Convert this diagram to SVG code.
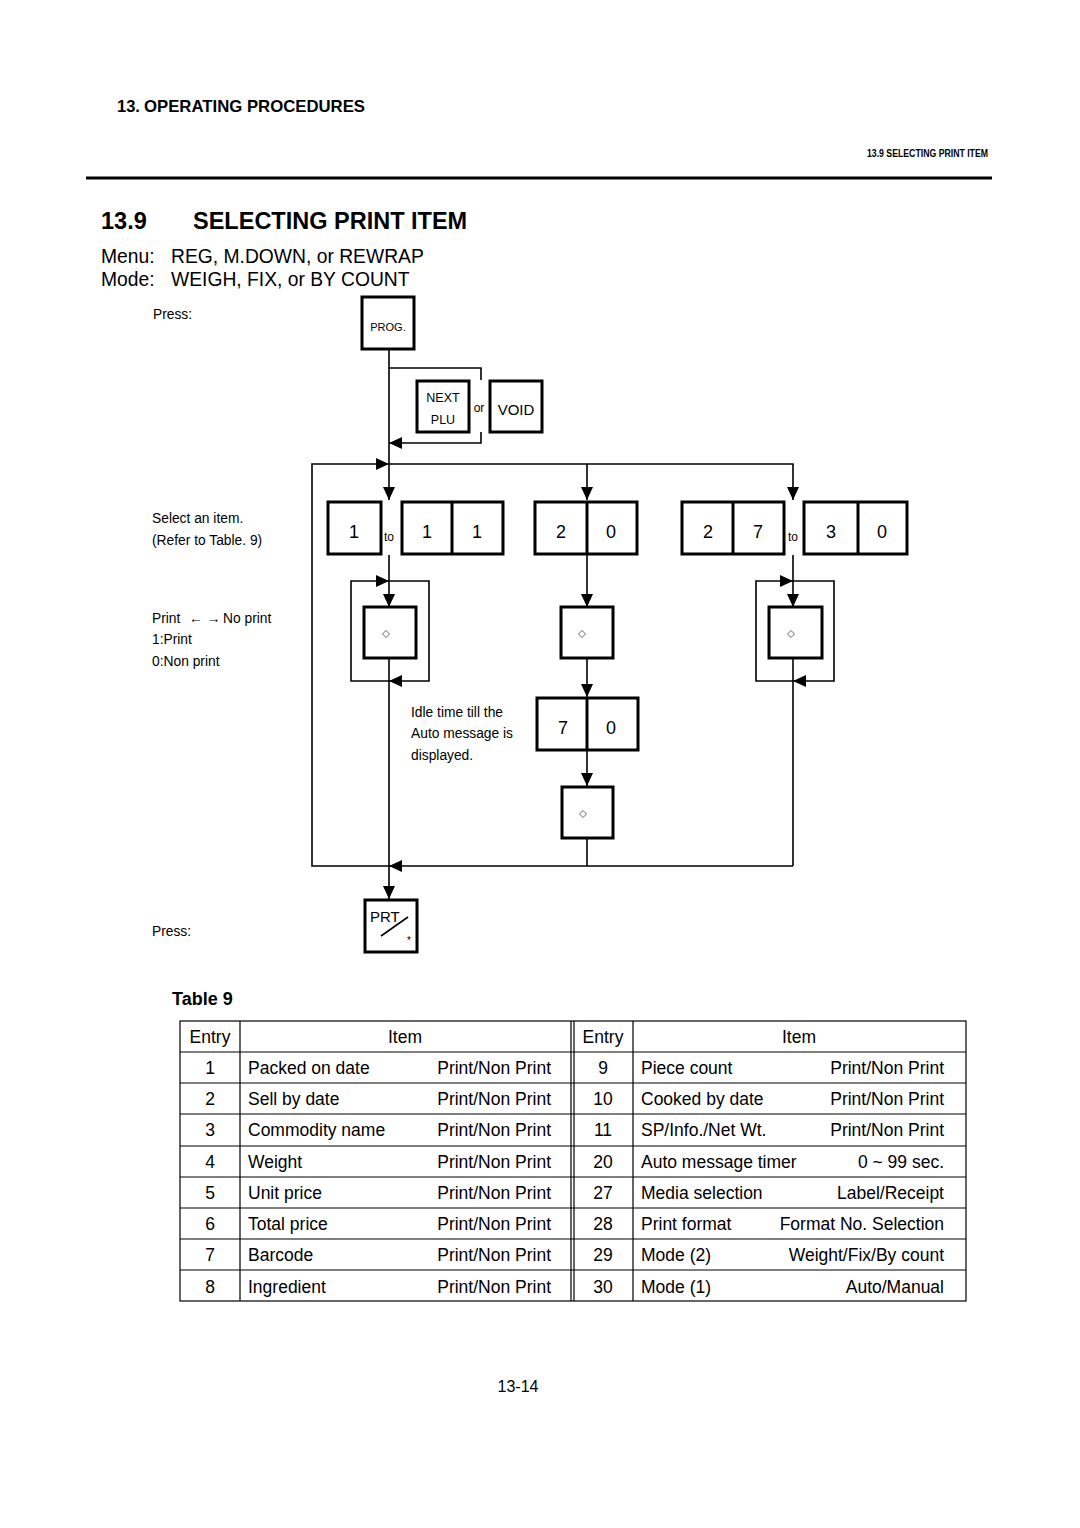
<svg xmlns="http://www.w3.org/2000/svg" width="1080" height="1528" viewBox="0 0 1080 1528">
<style>
text{font-family:"Liberation Sans",Arial,sans-serif;fill:#000}
.key{fill:#fff;stroke:#000;stroke-width:3}
.div{stroke:#000;stroke-width:3}
.con{fill:none;stroke:#000;stroke-width:1.6}
.num{font-size:18px;text-anchor:middle}
.note{font-size:13.8px}
.dia{fill:none;stroke:#555;stroke-width:0.9}
.tl{stroke:#000;stroke-width:1.2;fill:none}
.tt{font-size:17.5px}
.c{text-anchor:middle}
.r{text-anchor:end}
</style>
<defs>
<marker id="ah" markerUnits="userSpaceOnUse" markerWidth="14" markerHeight="12" refX="13" refY="6" orient="auto">
<path d="M0,0 L13,6 L0,12 z" fill="#000"/>
</marker>
<polygon id="dm" points="0,-3.5 3.5,0 0,3.5 -3.5,0" class="dia"/>
</defs>
<rect width="1080" height="1528" fill="#fff"/>

<g id="header">
<text x="117" y="112" font-size="16.5" font-weight="bold">13.</text>
<text x="144" y="112" font-size="16.5" font-weight="bold" textLength="221" lengthAdjust="spacingAndGlyphs">OPERATING PROCEDURES</text>
<text x="867" y="157" font-size="11" font-weight="bold" textLength="121" lengthAdjust="spacingAndGlyphs">13.9 SELECTING PRINT ITEM</text>
<rect x="86" y="176.5" width="906" height="3" fill="#000"/>
<text x="101" y="229" font-size="23.5" font-weight="bold">13.9</text>
<text x="193" y="229" font-size="23.5" font-weight="bold">SELECTING PRINT ITEM</text>
<text x="101" y="263" font-size="19.3">Menu:</text>
<text x="171" y="263" font-size="19.3">REG, M.DOWN, or REWRAP</text>
<text x="101" y="286" font-size="19.3">Mode:</text>
<text x="171" y="286" font-size="19.3">WEIGH, FIX, or BY COUNT</text>
</g>

<g id="notes">
<text class="note" x="153" y="319">Press:</text>
<text class="note" x="152" y="523">Select an item.</text>
<text class="note" x="152" y="545">(Refer to Table. 9)</text>
<text class="note" x="152" y="623">Print</text>
<text class="note" x="189" y="623" font-size="11">← →</text>
<text class="note" x="223" y="623">No print</text>
<text class="note" x="152" y="644">1:Print</text>
<text class="note" x="152" y="666">0:Non print</text>
<text class="note" x="411" y="717">Idle time till the</text>
<text class="note" x="411" y="738">Auto message is</text>
<text class="note" x="411" y="760">displayed.</text>
<text class="note" x="152" y="936">Press:</text>
<text x="389" y="541" font-size="12" class="c">to</text>
<text x="793" y="541" font-size="12" class="c">to</text>
<text x="479" y="412" font-size="12" class="c">or</text>
</g>

<g id="connectors">
<path class="con" d="M389,349 V500" marker-end="url(#ah)"/>
<path class="con" d="M389,368 H481 V380"/>
<path class="con" d="M481,432 V443 H389" marker-end="url(#ah)"/>
<path class="con" d="M389,866 H312 V464 H389" marker-end="url(#ah)"/>
<path class="con" d="M793,866 H389" marker-end="url(#ah)"/>
<path class="con" d="M389,464 H793 V500" marker-end="url(#ah)"/>
<path class="con" d="M587,464 V500" marker-end="url(#ah)"/>
<path class="con" d="M389,555 V607" marker-end="url(#ah)"/>
<path class="con" d="M389,681 H351 V581 H389" marker-end="url(#ah)"/>
<path class="con" d="M389,581 H429 V681 H389" marker-end="url(#ah)"/>
<path class="con" d="M389,658 V899" marker-end="url(#ah)"/>
<path class="con" d="M587,555 V607" marker-end="url(#ah)"/>
<path class="con" d="M587,658 V697" marker-end="url(#ah)"/>
<path class="con" d="M587,750 V786" marker-end="url(#ah)"/>
<path class="con" d="M587,838 V866"/>
<path class="con" d="M793,555 V607" marker-end="url(#ah)"/>
<path class="con" d="M793,681 H756 V581 H793" marker-end="url(#ah)"/>
<path class="con" d="M793,581 H834 V681 H793" marker-end="url(#ah)"/>
<path class="con" d="M793,658 V866"/>
</g>

<g id="key-prog">
<rect class="key" x="362" y="297" width="52" height="52"/>
<text x="388" y="331" font-size="11" class="c">PROG.</text>
</g>
<g id="key-nextplu">
<rect class="key" x="417" y="381" width="52" height="51"/>
<text x="443" y="402" font-size="12.5" class="c">NEXT</text>
<text x="443" y="424" font-size="12.5" class="c">PLU</text>
</g>
<g id="key-void">
<rect class="key" x="490" y="381" width="52" height="51"/>
<text x="516" y="415" font-size="15" class="c">VOID</text>
</g>

<g id="key-1">
<rect class="key" x="328" y="502" width="53" height="52"/>
<text class="num" x="354" y="538">1</text>
</g>
<g id="key-11">
<rect class="key" x="402" y="502" width="101" height="52"/>
<line class="div" x1="452" y1="502" x2="452" y2="554"/>
<text class="num" x="427" y="538">1</text>
<text class="num" x="477" y="538">1</text>
</g>
<g id="key-20">
<rect class="key" x="535" y="502" width="102" height="52"/>
<line class="div" x1="587" y1="502" x2="587" y2="554"/>
<text class="num" x="561" y="538">2</text>
<text class="num" x="611" y="538">0</text>
</g>
<g id="key-27">
<rect class="key" x="682" y="502" width="102" height="52"/>
<line class="div" x1="733" y1="502" x2="733" y2="554"/>
<text class="num" x="708" y="538">2</text>
<text class="num" x="758" y="538">7</text>
</g>
<g id="key-30">
<rect class="key" x="804" y="502" width="103" height="52"/>
<line class="div" x1="858" y1="502" x2="858" y2="554"/>
<text class="num" x="831" y="538">3</text>
<text class="num" x="882" y="538">0</text>
</g>

<g id="key-diamond-1">
<rect class="key" x="364" y="607" width="52" height="51"/>
<use href="#dm" x="386" y="634"/>
</g>
<g id="key-diamond-2">
<rect class="key" x="561" y="607" width="52" height="51"/>
<use href="#dm" x="582" y="634"/>
</g>
<g id="key-diamond-3">
<rect class="key" x="769" y="607" width="53" height="51"/>
<use href="#dm" x="791" y="634"/>
</g>
<g id="key-70">
<rect class="key" x="537" y="698" width="101" height="52"/>
<line class="div" x1="587" y1="698" x2="587" y2="750"/>
<text class="num" x="563" y="734">7</text>
<text class="num" x="611" y="734">0</text>
</g>
<g id="key-diamond-4">
<rect class="key" x="562" y="787" width="51" height="51"/>
<use href="#dm" x="583" y="814"/>
</g>
<g id="key-prt">
<rect class="key" x="365" y="900" width="52" height="52"/>
<text x="370" y="922" font-size="15">PRT</text>
<line x1="381" y1="936" x2="408" y2="917" stroke="#000" stroke-width="1.6"/>
<text x="409" y="944" font-size="10" class="c">*</text>
</g>

<g id="table9">
<text x="172" y="1005" font-size="18" font-weight="bold">Table 9</text>
<rect class="tl" x="180" y="1021" width="786" height="280"/>
<path class="tl" d="M240,1021 V1301 M571,1021 V1301 M574,1021 V1301 M633,1021 V1301"/>
<path class="tl" d="M180,1052 H966 M180,1083 H966 M180,1114 H966 M180,1146 H966 M180,1177 H966 M180,1208 H966 M180,1239 H966 M180,1270 H966"/>
<g class="tt">
<text class="c" x="210" y="1043">Entry</text>
<text class="c" x="405" y="1043">Item</text>
<text class="c" x="603" y="1043">Entry</text>
<text class="c" x="799" y="1043">Item</text>

<text class="c" x="210" y="1074">1</text><text x="248" y="1074">Packed on date</text><text class="r" x="551" y="1074">Print/Non Print</text>
<text class="c" x="210" y="1105">2</text><text x="248" y="1105">Sell by date</text><text class="r" x="551" y="1105">Print/Non Print</text>
<text class="c" x="210" y="1136">3</text><text x="248" y="1136">Commodity name</text><text class="r" x="551" y="1136">Print/Non Print</text>
<text class="c" x="210" y="1168">4</text><text x="248" y="1168">Weight</text><text class="r" x="551" y="1168">Print/Non Print</text>
<text class="c" x="210" y="1199">5</text><text x="248" y="1199">Unit price</text><text class="r" x="551" y="1199">Print/Non Print</text>
<text class="c" x="210" y="1230">6</text><text x="248" y="1230">Total price</text><text class="r" x="551" y="1230">Print/Non Print</text>
<text class="c" x="210" y="1261">7</text><text x="248" y="1261">Barcode</text><text class="r" x="551" y="1261">Print/Non Print</text>
<text class="c" x="210" y="1293">8</text><text x="248" y="1293">Ingredient</text><text class="r" x="551" y="1293">Print/Non Print</text>

<text class="c" x="603" y="1074">9</text><text x="641" y="1074">Piece count</text><text class="r" x="944" y="1074">Print/Non Print</text>
<text class="c" x="603" y="1105">10</text><text x="641" y="1105">Cooked by date</text><text class="r" x="944" y="1105">Print/Non Print</text>
<text class="c" x="603" y="1136">11</text><text x="641" y="1136">SP/Info./Net Wt.</text><text class="r" x="944" y="1136">Print/Non Print</text>
<text class="c" x="603" y="1168">20</text><text x="641" y="1168">Auto message timer</text><text class="r" x="944" y="1168">0 ~ 99 sec.</text>
<text class="c" x="603" y="1199">27</text><text x="641" y="1199">Media selection</text><text class="r" x="944" y="1199">Label/Receipt</text>
<text class="c" x="603" y="1230">28</text><text x="641" y="1230">Print format</text><text class="r" x="944" y="1230">Format No. Selection</text>
<text class="c" x="603" y="1261">29</text><text x="641" y="1261">Mode (2)</text><text class="r" x="944" y="1261">Weight/Fix/By count</text>
<text class="c" x="603" y="1293">30</text><text x="641" y="1293">Mode (1)</text><text class="r" x="944" y="1293">Auto/Manual</text>
</g>
</g>

<g id="footer">
<text x="518" y="1392" font-size="16" class="c">13-14</text>
</g>
</svg>
